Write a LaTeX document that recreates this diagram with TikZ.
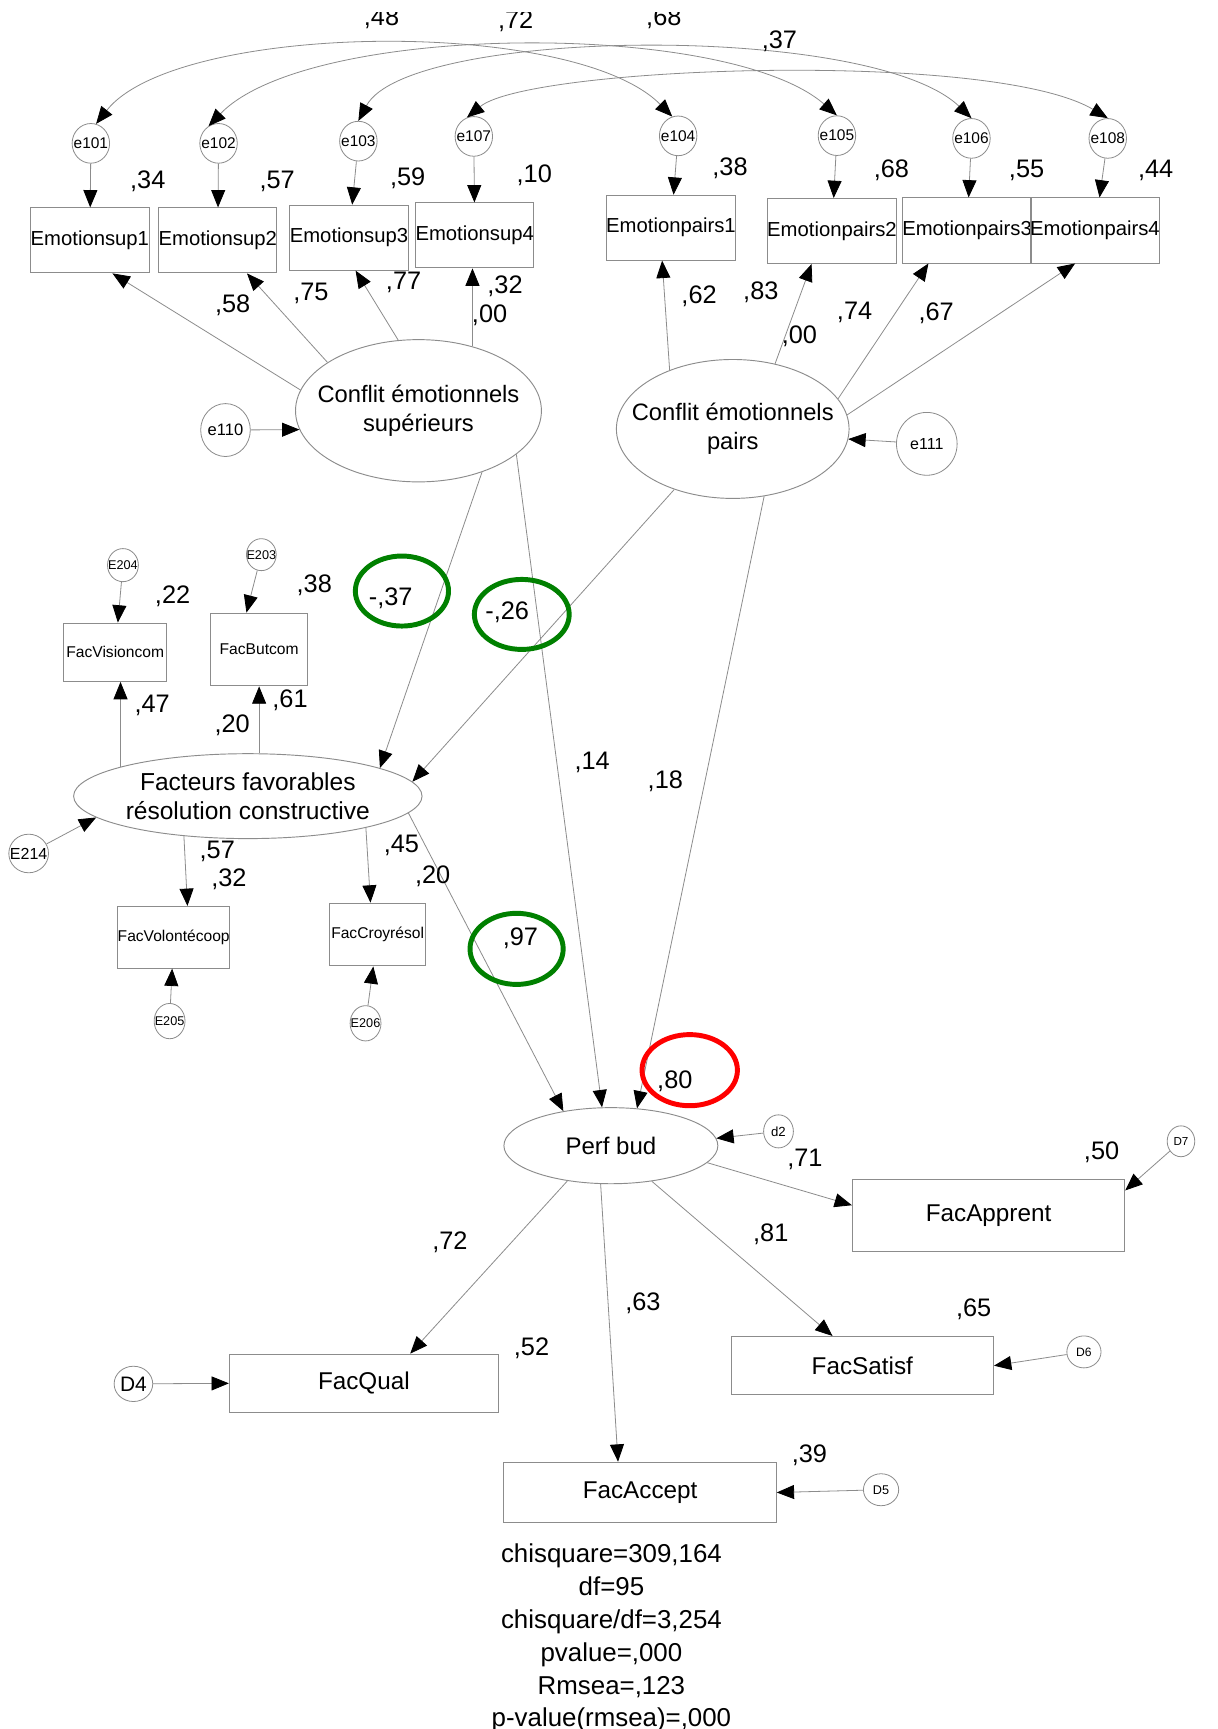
\documentclass[tikz,border=0pt]{standalone}
\usepackage{fontspec}
\setmainfont{Liberation Sans}
\usetikzlibrary{arrows.meta,shapes.geometric}
\newcommand\UU{0.8268pt}
\newcommand\fsz[2]{\fontsize{#1pt}{#2pt}\selectfont}
\newcommand\zw[1]{\makebox[0pt]{#1}}
\tikzset{
  Arr/.tip={Triangle[length=13pt,width=10.5pt,color=black]},
  lnk/.style={draw=black!45, line width=0.6pt, -Arr},
  cov/.style={draw=black!45, line width=0.6pt, Arr-Arr},
  box/.style={draw=black!45, line width=0.7pt, rectangle, inner sep=0pt},
  err/.style={draw=black!45, line width=0.6pt, ellipse, inner sep=0pt},
  lat/.style={draw=black!45, line width=0.7pt, ellipse, inner sep=0pt},
  num/.style={inner sep=0pt, font=\fsz{19}{22}},
  ring/.style={ellipse, line width=3.7pt, inner sep=0pt},
  ebox/.style={box, minimum width=97*\UU, minimum height=59*\UU, font=\fsz{15.2}{16}},
  sbox/.style={box, font=\fsz{11.7}{13}},
  bbox/.style={box, font=\fsz{18.2}{20}},
  eerr/.style={err, minimum width=34*\UU, minimum height=36*\UU, font=\fsz{11.6}{12}},
}
\begin{document}
\begin{tikzpicture}[x=\UU,y=-\UU]
\path[fill=white, use as bounding box] (0,0) rectangle (1104,1568);
\begin{scope}
\clip (0,0) rectangle (1104,1568);

% ---------- top indicators ----------
\node[ebox] (b1) at (81.5,218) {Emotionsup1};
\node[ebox] (b2) at (197.5,218) {Emotionsup2};
\node[ebox] (b3) at (316.5,215.5) {Emotionsup3};
\node[ebox] (b4) at (430.5,213.5) {Emotionsup4};
\node[ebox] (p1) at (608.5,206.5) {Emotionpairs1};
\node[ebox] (p2) at (754.5,209.5) {Emotionpairs2};
\node[ebox] (p3) at (877,209) {Emotionpairs3};
\node[ebox] (p4) at (993,209) {Emotionpairs4};

\node[eerr] (e101) at (82.4,130) {\zw{e101}};
\node[eerr] (e102) at (198.2,130) {\zw{e102}};
\node[eerr] (e103) at (325,128) {\zw{e103}};
\node[eerr] (e107) at (429.7,123.7) {\zw{e107}};
\node[eerr] (e104) at (615,123.2) {\zw{e104}};
\node[eerr] (e105) at (759,123) {\zw{e105}};
\node[eerr] (e106) at (881,125.5) {\zw{e106}};
\node[eerr] (e108) at (1004.6,125.5) {\zw{e108}};

% ---------- latent variables ----------
\node[lat, minimum width=223*\UU, minimum height=129*\UU,
  label={[font=\fsz{17.8}{21.3}, align=center]center:{Conflit émotionnels\\supérieurs}}] (sup) at (379.5,372.5) {};
\node[lat, minimum width=211*\UU, minimum height=126*\UU,
  label={[font=\fsz{17.8}{21.7}, align=center]center:{Conflit émotionnels\\pairs}}] (pairs) at (664.5,389) {};
\node[lat, minimum width=316*\UU, minimum height=77*\UU,
  label={[font=\fsz{18.4}{22.3}, align=center]center:{Facteurs favorables\\résolution constructive}}] (fac) at (224.75,722) {};
\node[lat, minimum width=194*\UU, minimum height=69*\UU, font=\fsz{18}{20}] (perf) at (554,1039) {\zw{Perf bud}};

\node[err, minimum width=45*\UU, minimum height=48*\UU, font=\fsz{12.4}{13}] (e110) at (204.5,390) {\zw{e110}};
\node[err, minimum width=55*\UU, minimum height=57*\UU, font=\fsz{12}{13}] (e111) at (840.5,402.5) {\zw{e111}};

% ---------- mediator indicators ----------
\node[sbox, minimum width=93*\UU, minimum height=53*\UU] (vision) at (104.5,591.5) {FacVisioncom};
\node[sbox, minimum width=88*\UU, minimum height=66*\UU] (butcom) at (235,589) {FacButcom};
\node[sbox, minimum width=89*\UU, minimum height=56*\UU] (volon) at (157.5,850) {FacVolontécoop};
\node[sbox, minimum width=87*\UU, minimum height=57*\UU] (croy) at (342.5,847.5) {FacCroyrésol};

\node[err, minimum width=28*\UU, minimum height=30*\UU, font=\fsz{9.5}{10}] (E204) at (111.5,512.5) {\zw{E204}};
\node[err, minimum width=27*\UU, minimum height=29*\UU, font=\fsz{9.5}{10}] (E203) at (237,503) {\zw{E203}};
\node[err, minimum width=36*\UU, minimum height=35*\UU, font=\fsz{12}{13}] (E214) at (26,774) {\zw{E214}};
\node[err, minimum width=28*\UU, minimum height=32*\UU, font=\fsz{9.5}{10}] (E205) at (153.8,926) {\zw{E205}};
\node[err, minimum width=28*\UU, minimum height=32*\UU, font=\fsz{9.5}{10}] (E206) at (331.5,928) {\zw{E206}};

% ---------- outcome indicators ----------
\node[bbox, minimum width=247*\UU, minimum height=65*\UU] (apprent) at (896.5,1102.5) {FacApprent};
\node[bbox, minimum width=238*\UU, minimum height=53*\UU] (satisf) at (782,1238.5) {FacSatisf};
\node[bbox, minimum width=247*\UU, minimum height=55*\UU] (accept) at (580.5,1353.5) {FacAccept};
\node[bbox, minimum width=244*\UU, minimum height=53*\UU] (qual) at (330,1254.5) {FacQual};

\node[err, minimum width=27*\UU, minimum height=30*\UU, font=\fsz{9.9}{10}] (d2) at (706,1026) {\zw{d2}};
\node[err, minimum width=25*\UU, minimum height=28*\UU, font=\fsz{8.7}{9}] (D7) at (1071,1035) {\zw{D7}};
\node[err, minimum width=31*\UU, minimum height=29*\UU, font=\fsz{9.1}{10}] (D6) at (983,1226) {\zw{D6}};
\node[err, minimum width=32*\UU, minimum height=29*\UU, font=\fsz{9.5}{10}] (D5) at (799,1351) {\zw{D5}};
\node[err, minimum width=35*\UU, minimum height=32*\UU, font=\fsz{15.7}{16}] (D4) at (121,1255) {\zw{D4}};

% ---------- connectors ----------
\draw[lnk] (e101) -- (b1);
\draw[lnk] (e102) -- (b2);
\draw[lnk] (e103) -- (b3);
\draw[lnk] (e107) -- (b4);
\draw[lnk] (e104) -- (p1);
\draw[lnk] (e105) -- (p2);
\draw[lnk] (e106) -- (p3);
\draw[lnk] (e108) -- (p4);

\draw[cov] (e101.75) .. controls (160,20) and (520,15) .. (e104.107);
\draw[cov] (e102.120) .. controls (280,20) and (660,18) .. (e105.north);
\draw[cov] (e103.north) .. controls (370,25) and (790,20) .. (e106.north);
\draw[cov] (e107.110) .. controls (480,60) and (900,45) .. (e108.north);

\draw[lnk] (sup.170) -- ([xshift=20.5*\UU]b1.south);
\draw[lnk] (sup.152) -- ([xshift=26.5*\UU]b2.south);
\draw[lnk] (sup.106) -- ([xshift=6*\UU]b3.south);
\draw[lnk] (sup.50) -- (sup.50 |- b4.south);

\draw[lnk] (pairs.137) -- ([xshift=-8*\UU]p1.south);
\draw[lnk] (pairs.57) -- ([xshift=-18.5*\UU]p2.south);
\draw[lnk] (pairs.16) -- ([xshift=-35*\UU]p3.south);
\draw[lnk] (pairs.7) -- ([xshift=-18*\UU]p4.south);

\draw[lnk] (e110) -- (sup.189);
\draw[lnk] (e111) -- (pairs.-5);

\draw[lnk] (sup.-44) -- (fac.12);
\draw[lnk] (pairs.226) -- (fac.5);
\draw[lnk] (sup.-24) -- (perf.103);
\draw[lnk] (pairs.-65) -- (perf.55);
\draw[lnk] (fac.-6) -- (perf.144);

\draw[lnk] (E214) -- (fac.188);
\draw[lnk] (fac.167) -- (fac.167 |- vision.south);
\draw[lnk] (butcom.south |- fac.north) -- (butcom.south);
\draw[lnk] (fac.212) -- ([xshift=12.5*\UU]volon.north);
\draw[lnk] (fac.-15) -- ([xshift=-6.5*\UU]croy.north);
\draw[lnk] (E204) -- (vision);
\draw[lnk] (E203) -- ([xshift=-11.5*\UU]butcom.north);
\draw[lnk] (E205) -- (volon);
\draw[lnk] (E206) -- (croy);

\draw[lnk] (perf.219) -- ([xshift=42*\UU]qual.north);
\draw[lnk] (perf.255) -- ([xshift=-20*\UU]accept.north);
\draw[lnk] (perf.-41) -- ([xshift=-27*\UU]satisf.north);
\draw[lnk] (perf.-10) -- ([yshift=9.5*\UU]apprent.west);

\draw[lnk] (d2) -- (perf.4);
\draw[lnk] (D7) -- ([yshift=-10*\UU]apprent.north east);
\draw[lnk] (D6) -- (satisf.east);
\draw[lnk] (D5) -- (accept.east);
\draw[lnk] (D4) -- (qual.west);

% ---------- coefficients ----------
\begin{scope}
\clip (0,11) rectangle (1104,60);
\node[num, anchor=base] (c48) at (346,22.7) {,48};
\node[num, anchor=base] (c72) at (467.6,26) {,72};
\node[num, anchor=base] (c68) at (602,22.7) {,68};
\node[num, anchor=base] (c37) at (706.8,43.8) {,37};
\end{scope}

\node[num] (n1) at (134,164.8) {,34};
\node[num] (n2) at (251.4,164.8) {,57};
\node[num] (n3) at (369.7,161.8) {,59};
\node[num] (n4) at (484.5,158.8) {,10};
\node[num] (n5) at (662,152.7) {,38};
\node[num] (n6) at (808.4,154.8) {,68};
\node[num] (n7) at (931,154.8) {,55};
\node[num] (n8) at (1048,154.8) {,44};

\node[num] (n9) at (211,277) {,58};
\node[num] (n10) at (282,266) {,75};
\node[num] (n11) at (366,256) {,77};
\node[num] (n12) at (458,260) {,32};
\node[num] (n13) at (444,286) {,00};
\node[num] (n14) at (634,269) {,62};
\node[num] (n15) at (690,265) {,83};
\node[num] (n16) at (725,305) {,00};
\node[num] (n17) at (775,283) {,74};
\node[num] (n18) at (849,284) {,67};

\node[num] (n19) at (156.5,540.5) {,22};
\node[num] (n20) at (285,531) {,38};
\node[num] (n21) at (354.3,542.5) {-,37};
\node[num] (n22) at (460,555) {-,26};
\node[num] (n23) at (138,639.5) {,47};
\node[num] (n24) at (210.6,657.7) {,20};
\node[num] (n25) at (263,635) {,61};
\node[num] (n26) at (197,772) {,57};
\node[num] (n27) at (207.6,797.5) {,32};
\node[num] (n28) at (364,767) {,45};
\node[num] (n29) at (392.4,794.5) {,20};
\node[num] (n30) at (472,851) {,97};
\node[num] (n31) at (537,691.7) {,14};
\node[num] (n32) at (603.4,708.3) {,18};

\node[num] (n33) at (612,981) {,80};
\node[num] (n34) at (730,1051) {,71};
\node[num] (n35) at (999,1045) {,50};
\node[num] (n36) at (699,1119) {,81};
\node[num] (n37) at (883,1187) {,65};
\node[num] (n38) at (408,1127) {,72};
\node[num] (n39) at (583,1182) {,63};
\node[num] (n40) at (482,1223) {,52};
\node[num] (n41) at (734,1320) {,39};

% ---------- highlight rings ----------
\node[ring, draw=green!50!black, minimum width=84.5*\UU, minimum height=63.5*\UU] (g1) at (364.5,536) {};
\node[ring, draw=green!50!black, minimum width=86*\UU, minimum height=63.5*\UU] (g2) at (473.2,557.2) {};
\node[ring, draw=green!50!black, minimum width=84.5*\UU, minimum height=64.5*\UU] (g3) at (468.5,860.5) {};
\node[ring, draw=red, minimum width=86.5*\UU, minimum height=64.5*\UU] (r1) at (625.5,970.5) {};

% ---------- fit statistics ----------
\node[inner sep=0pt, anchor=north, align=center, font=\fsz{19.4}{24.6}] (stats) at (554.5,1400) {chisquare=309,164\\df=95\\chisquare/df=3,254\\pvalue=,000\\Rmsea=,123\\p-value(rmsea)=,000};
\end{scope}
\end{tikzpicture}
\end{document}
